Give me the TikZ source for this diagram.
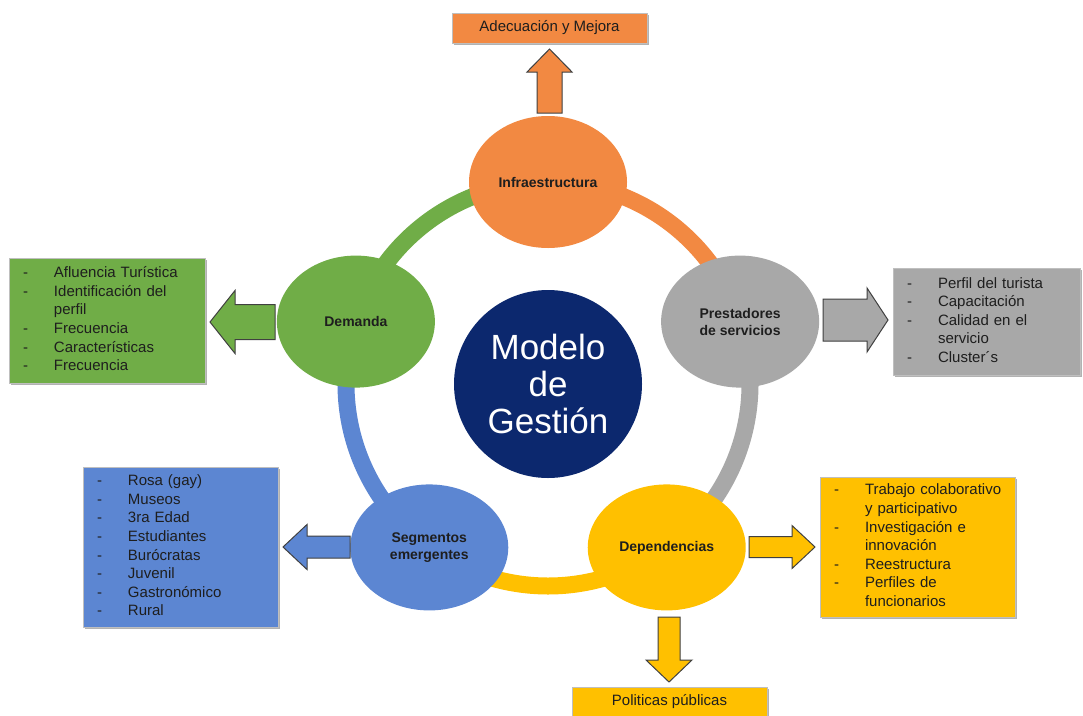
\documentclass[tikz,border=0pt]{standalone}
\usepackage{fontspec}
\setmainfont{Liberation Sans}
\usetikzlibrary{shapes.geometric,shadows,calc,backgrounds}
\definecolor{cOrange}{RGB}{242,137,66}
\definecolor{cGray}{RGB}{168,168,168}
\definecolor{cYellow}{RGB}{255,192,0}
\definecolor{cBlue}{RGB}{92,134,210}
\definecolor{cGreen}{RGB}{112,173,71}
\definecolor{cNavy}{RGB}{12,40,110}
\definecolor{cText}{RGB}{30,30,30}
% block arrow: #1 style, #2 back-centre coordinate, #3 rotation, #4 length, #5 shaft half width, #6 head half width, #7 head length
\newcommand\blockarr[7]{%
  \draw[#1, shift={(#2)}, rotate=#3] (0,-#5) -- ({#4-#7},-#5) -- ({#4-#7},-#6) -- (#4,0)
     -- ({#4-#7},#6) -- ({#4-#7},#5) -- (0,#5) -- cycle;}
\newcommand\itemlist[1]{\noindent\begin{tabular}{@{}p{31pt}@{}l@{}}#1\end{tabular}}
\begin{document}
\begin{tikzpicture}[x=1pt,y=-1pt,
  bubble/.style={ellipse, minimum width=158pt, minimum height=132pt, inner sep=0pt,
    font=\fontsize{14}{17}\selectfont\bfseries, text=cText, align=center},
  listbox/.style={rectangle, draw=black!25, line width=0.5pt, inner xsep=14pt, inner ysep=0pt,
    drop shadow={shadow xshift=2pt, shadow yshift=-2pt, opacity=0.3, fill=black},
    font=\fontsize{15}{18.6}\selectfont, text=cText, align=left},
  titlebox/.style={rectangle, draw=black!25, line width=0.5pt, minimum width=195pt, minimum height=30pt,
    drop shadow={shadow xshift=2pt, shadow yshift=-2pt, opacity=0.3, fill=black},
    font=\fontsize{15}{18}\selectfont, text=cText},
  ring/.style={line width=17pt},
  barrow/.style={draw=black!75, line width=1pt, line join=miter}
]
\useasboundingbox (0,0) rectangle (1083,715);

\coordinate (C) at (548,384);
% cycle nodes
\node[bubble, fill=cOrange] (inf) at ($(C)+(-90:202)$) {Infraestructura};
\node[bubble, fill=cGreen] (dem) at ($(C)+(198:202)$) {Demanda};
\node[bubble, fill=cGray] (pre) at ($(C)+(-18:202)$) {Prestadores\\de servicios};
\node[bubble, fill=cBlue, minimum height=126pt] (seg) at ($(C)+(126:202)$) {Segmentos\\emergentes};
\node[bubble, fill=cYellow, minimum height=126pt] (dep) at ($(C)+(54:202)$) {Dependencias};

\node[circle, fill=cNavy, minimum size=188pt, inner sep=0pt, text=white,
  font=\fontsize{35}{37}\selectfont, align=center] (mod) at (C) {Modelo\\de\\Gestión};

% ring arcs behind the bubbles
\begin{scope}[on background layer]
\fill[white] (0,0) rectangle (1083,715);
\draw[ring, cGreen] (inf.center) arc[start angle=-90, end angle=-162, radius=202];
\draw[ring, cOrange] (pre.center) arc[start angle=-18, end angle=-90, radius=202];
\draw[ring, cGray] (dep.center) arc[start angle=54, end angle=-18, radius=202];
\draw[ring, cYellow] (seg.center) arc[start angle=126, end angle=54, radius=202];
\draw[ring, cBlue] (dem.center) arc[start angle=198, end angle=126, radius=202];
\end{scope}

% boxes
\node[titlebox, fill=cOrange] (ade) at (549.5,28) {Adecuación y Mejora};
\node[titlebox, fill=cYellow] (pol) at (669.5,702) {Politicas públicas};

\node[listbox, fill=cGreen, text width=168pt, minimum height=125pt] (gbox) at (107,320.5)
  {\itemlist{- & Afluencia Turística\\ - & Identificación del\\ & perfil\\ - & Frecuencia\\ - & Características\\ - & Frecuencia}};
\node[listbox, fill=cGray, text width=159pt, minimum height=107pt] (pbox) at (986.5,321.5)
  {\itemlist{- & Perfil del turista\\ - & Capacitación\\ - & Calidad en el\\ & servicio\\ - & Cluster´s}};
\node[listbox, fill=cBlue, text width=167pt, minimum height=160pt] (sbox) at (180.5,547)
  {\itemlist{- & Rosa (gay)\\ - & Museos\\ - & 3ra Edad\\ - & Estudiantes\\ - & Burócratas\\ - & Juvenil\\ - & Gastronómico\\ - & Rural}};
\node[listbox, fill=cYellow, text width=167pt, minimum height=140pt] (dbox) at (917.5,547)
  {\itemlist{- & Trabajo colaborativo\\ & y participativo\\ - & Investigación e\\ & innovación\\ - & Reestructura\\ - & Perfiles de\\ & funcionarios}};

% block arrows
\coordinate (aUp) at (549.5,113);
\coordinate (aGreen) at (275,322);
\coordinate (aGray) at (823,320);
\coordinate (aBlue) at (350,547);
\coordinate (aYel) at (749,547);
\coordinate (aDown) at (669,617);
\blockarr{barrow, fill=cOrange}{aUp}{90}{64}{12.5}{22.5}{23}
\blockarr{barrow, fill=cGreen}{aGreen}{180}{65}{17.5}{31.5}{25}
\blockarr{barrow, fill=cGray}{aGray}{0}{65}{21}{32}{21}
\blockarr{barrow, fill=cBlue}{aBlue}{180}{67}{11}{22.5}{24}
\blockarr{barrow, fill=cYellow}{aYel}{0}{66}{10.5}{21.5}{23}
\blockarr{barrow, fill=cYellow}{aDown}{-90}{65}{11}{23}{22}
\end{tikzpicture}
\end{document}
